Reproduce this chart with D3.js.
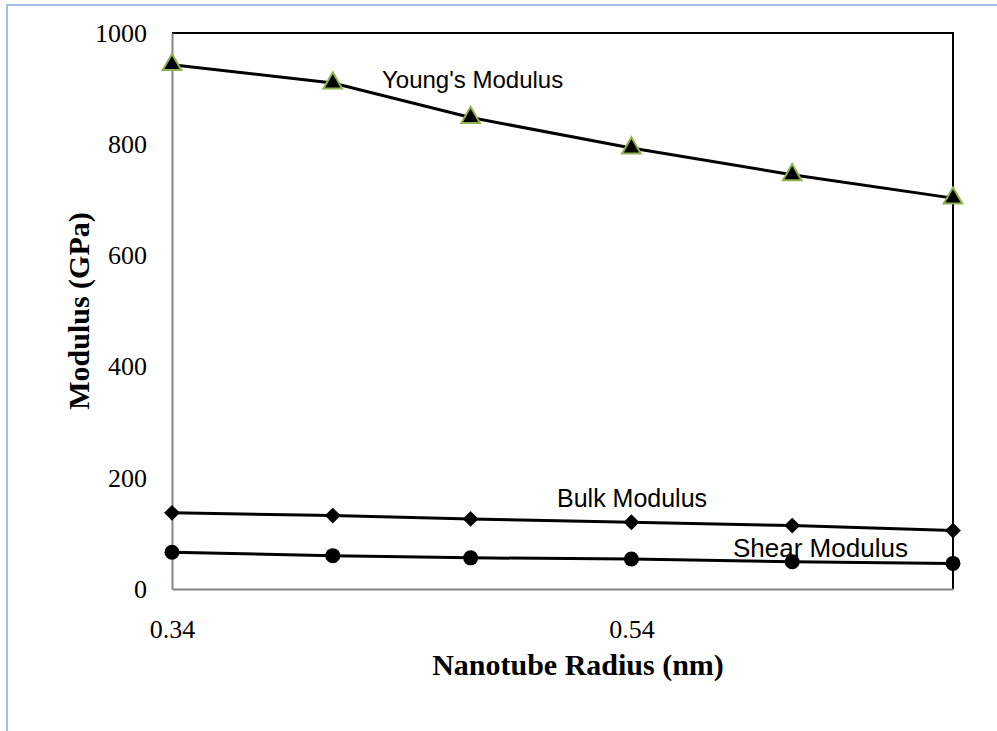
<!DOCTYPE html>
<html>
<head>
<meta charset="utf-8">
<script src="https://cdn.jsdelivr.net/npm/d3@7"></script>
<style>
  body { margin: 0; background: #fff; }
  svg { display: block; }
</style>
</head>
<body>
<div id="chart"></div>
<script>
// datos
const radius = [0.34, 0.41, 0.47, 0.54, 0.61, 0.68];
const youngs = [943, 910, 848, 793, 745, 703];
const bulk = [137, 132, 126, 120, 114, 105];
const shear = [66, 60, 56, 54, 49, 46];
const xTicks = [0.34, 0.54];
const yTicks = [0, 200, 400, 600, 800, 1000];

const W = 997, H = 731;
const margin = {top: 33, right: 44, bottom: 142, left: 172};

let svg = d3.select('#chart').append('svg')
    .attr('width', W)
    .attr('height', H);

// marco exterior
svg.append('rect')
    .attr('x', 7).attr('y', 5)
    .attr('width', W + 20).attr('height', H + 20)
    .attr('fill', 'none')
    .attr('stroke', '#A4BEE4')
    .attr('stroke-width', 2);

let x = d3.scaleLinear()
    .domain([0.34, 0.68])
    .range([margin.left, W - margin.right]);

let y = d3.scaleLinear()
    .domain([0, 1000])
    .range([H - margin.bottom, margin.top]);

// borde superior y derecho
svg.append('path')
    .attr('d', `M${x(0.34)},${y(1000)}H${x(0.68)}V${y(0)}`)
    .attr('fill', 'none')
    .attr('stroke', '#000')
    .attr('stroke-width', 2);

let xAxis = svg.append('g')
    .attr('transform', `translate(0,${y(0)})`)
    .call(d3.axisBottom(x).tickValues(xTicks).tickSize(0).tickPadding(31)
        .tickFormat(d3.format('.2f')));

let yAxis = svg.append('g')
    .attr('transform', `translate(${x(0.34)},0)`)
    .call(d3.axisLeft(y).tickValues(yTicks).tickSize(0).tickPadding(25)
        .tickFormat(d3.format('d')));

[xAxis, yAxis].forEach(function(g) {
    g.select('.domain').attr('stroke', '#868686').attr('stroke-width', 2);
    g.selectAll('text')
        .attr('fill', '#000')
        .style('font-family', '"Liberation Serif", "Times New Roman", serif')
        .style('font-size', '26px');
});

// titulos
svg.append('text')
    .attr('x', 578).attr('y', 675)
    .attr('text-anchor', 'middle')
    .style('font-family', '"Liberation Serif", "Times New Roman", serif')
    .style('font-weight', 'bold')
    .style('font-size', '30px')
    .text('Nanotube Radius (nm)');

svg.append('text')
    .attr('transform', 'translate(89,311) rotate(-90)')
    .attr('text-anchor', 'middle')
    .style('font-family', '"Liberation Serif", "Times New Roman", serif')
    .style('font-weight', 'bold')
    .style('font-size', '30px')
    .text('Modulus (GPa)');

let line = d3.line()
    .x(function(d, i) { return x(radius[i]); })
    .y(function(d) { return y(d); });

let series = [
    {name: 'young', values: youngs},
    {name: 'bulk', values: bulk},
    {name: 'shear', values: shear}
];

series.forEach(function(s) {
    svg.append('path')
        .datum(s.values)
        .attr('d', line)
        .attr('fill', 'none')
        .attr('stroke', '#000')
        .attr('stroke-width', 3);
});

// marcadores
svg.append('g').selectAll('path')
    .data(youngs)
    .enter().append('path')
    .attr('transform', function(d, i) { return `translate(${x(radius[i])},${y(d)})`; })
    .attr('d', d3.symbol().type(d3.symbolTriangle).size(150))
    .attr('fill', '#000')
    .attr('stroke', '#8FB24F')
    .attr('stroke-width', 2);

svg.append('g').selectAll('path')
    .data(bulk)
    .enter().append('path')
    .attr('transform', function(d, i) { return `translate(${x(radius[i])},${y(d)}) rotate(45)`; })
    .attr('d', d3.symbol().type(d3.symbolSquare).size(125))
    .attr('fill', '#000');

svg.append('g').selectAll('circle')
    .data(shear)
    .enter().append('circle')
    .attr('cx', function(d, i) { return x(radius[i]); })
    .attr('cy', function(d) { return y(d); })
    .attr('r', 7.5)
    .attr('fill', '#000');

// etiquetas
let labels = [
    {text: "Young's Modulus", x: 382, y: 88, size: 24},
    {text: 'Bulk Modulus', x: 557, y: 507, size: 25},
    {text: 'Shear Modulus', x: 733, y: 557, size: 26}
];

svg.append('g').selectAll('text')
    .data(labels)
    .enter().append('text')
    .attr('x', function(d) { return d.x; })
    .attr('y', function(d) { return d.y; })
    .style('font-family', '"Liberation Sans", Arial, sans-serif')
    .style('font-size', function(d) { return d.size + 'px'; })
    .text(function(d) { return d.text; });
</script>
</body>
</html>
